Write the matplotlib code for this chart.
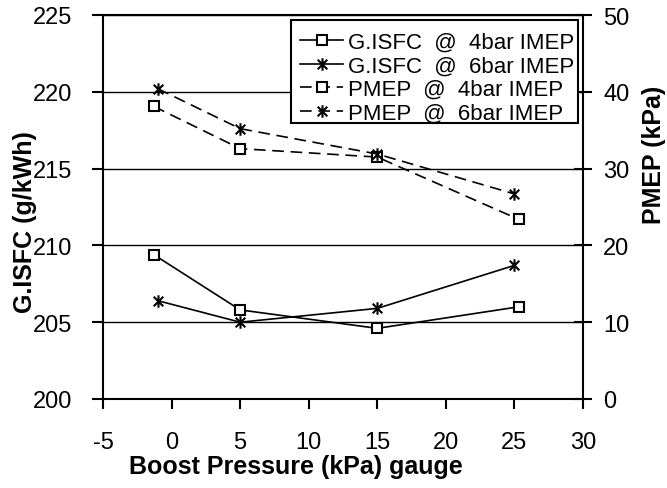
import matplotlib
matplotlib.use("Agg")
import matplotlib.pyplot as plt
from matplotlib.path import Path
from matplotlib.patches import Rectangle

plt.rcParams['font.family'] = ['Liberation Sans', 'DejaVu Sans']
plt.rcParams['axes.unicode_minus'] = False

# Data
x_4bar = [-1.3, 5, 15, 25.3]
x_6bar = [-1.0, 5, 15, 25]
gisfc_4bar = [209.4, 205.8, 204.6, 206.0]
gisfc_6bar = [206.4, 205.0, 205.9, 208.7]
pmep_4bar = [38.1, 32.6, 31.5, 23.4]
pmep_6bar = [40.4, 35.2, 31.9, 26.7]
labels = ["G.ISFC  @  4bar IMEP", "G.ISFC  @  6bar IMEP",
          "PMEP  @  4bar IMEP", "PMEP  @  6bar IMEP"]
xticks = [-5, 0, 5, 10, 15, 20, 25, 30]
yticks_left = [200, 205, 210, 215, 220, 225]
yticks_right = [0, 10, 20, 30, 40, 50]

star = Path([(-1, -1), (1, 1), (-1, 1), (1, -1), (0, -1.3), (0, 1.3)],
            [Path.MOVETO, Path.LINETO, Path.MOVETO, Path.LINETO, Path.MOVETO, Path.LINETO])

fig = plt.figure(figsize=(6.67, 4.89), dpi=100)
ax = fig.add_axes([103/667, 1-400/489, 480/667, 384/489])
ax2 = ax.twinx()

lw = 1.2
dash = (7, 4)
l1, = ax.plot(x_4bar, gisfc_4bar, color='black', lw=lw, marker='s', ms=7,
              mfc='white', mec='black', mew=1.5)
l2, = ax.plot(x_6bar, gisfc_6bar, color='black', lw=lw, marker=star, ms=9,
              mfc='none', mec='black', mew=1.5)
l3, = ax2.plot(x_4bar, pmep_4bar, color='black', lw=lw, ls=(0, dash), marker='s', ms=7,
               mfc='white', mec='black', mew=1.5)
l4, = ax2.plot(x_6bar, pmep_6bar, color='black', lw=lw, ls=(0, dash), marker=star, ms=9,
               mfc='none', mec='black', mew=1.5)

ax.set_xlim(-5, 30)
ax.set_ylim(200, 225)
ax2.set_ylim(0, 50)
ax.set_xticks(xticks)
ax.set_yticks(yticks_left)
ax2.set_yticks(yticks_right)

for a in (ax, ax2):
    for s in a.spines.values():
        s.set_linewidth(1.5)
    a.spines['top'].set_visible(False)
ax.spines['right'].set_visible(False)
ax2.spines['left'].set_visible(False)
ax2.spines['bottom'].set_visible(False)

ax.grid(axis='y', color='black', lw=1.0)
ax.set_axisbelow(True)
ax.axhline(225, color='black', lw=1.5, clip_on=False)

ax.tick_params(axis='x', direction='out', length=7, width=1.5, labelsize=17, pad=16)
ax.tick_params(axis='y', direction='out', length=8, width=1.5, labelsize=17, pad=14)
ax2.tick_params(axis='y', direction='inout', length=13, width=1.5, labelsize=17, pad=8)

ax.set_xlabel('Boost Pressure (kPa) gauge', fontsize=18, fontweight='bold')
ax.xaxis.set_label_coords((295.5-103)/480, (400-467)/384)
ax.xaxis.label.set_verticalalignment('center')
ax.set_ylabel('G.ISFC (g/kWh)', fontsize=18, fontweight='bold')
ax.yaxis.set_label_coords((25-103)/480, (400-222)/384)
ax.yaxis.label.set_verticalalignment('center')
ax2.set_ylabel('PMEP (kPa)', fontsize=18, fontweight='bold')
ax2.yaxis.set_label_coords((654-103)/480, (400-155)/384)
ax2.yaxis.label.set_verticalalignment('center')

# legend frame (opaque box) and legend entries
frame = Rectangle((291/667, 1-124/489), 287/667, 103/489, transform=fig.transFigure,
                  facecolor='white', edgecolor='black', lw=1.5, zorder=3)
fig.add_artist(frame)
leg = fig.legend([l1, l2, l3, l4], labels, loc='upper left',
                 bbox_to_anchor=(300/667, 1-33/489), bbox_transform=fig.transFigure,
                 fontsize=16, frameon=False, borderaxespad=0, borderpad=0,
                 handlelength=1.95, handletextpad=0.22, labelspacing=0.11, numpoints=1)
leg.set_zorder(5)

fig.savefig('out.png', dpi=100)
